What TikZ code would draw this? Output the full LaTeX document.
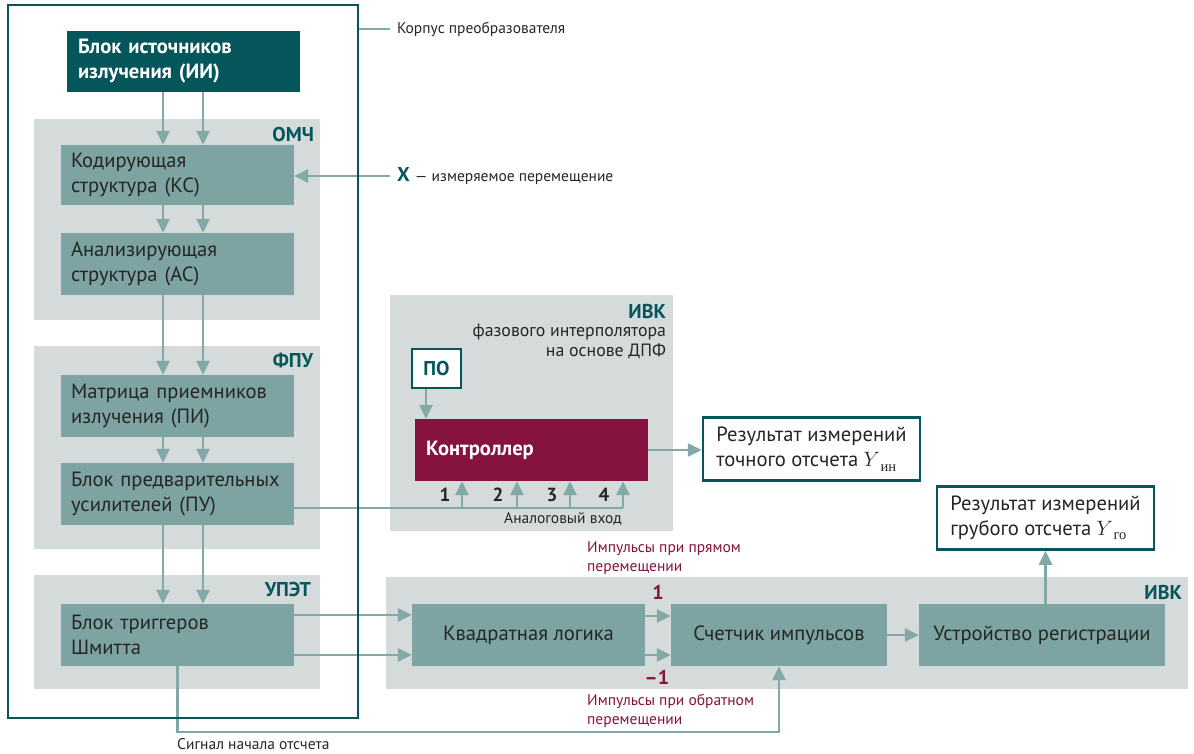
\documentclass[tikz,border=0pt]{standalone}
\usepackage{fontspec}
\setmainfont{PT Sans}
\newfontfamily\serifc{Liberation Serif}
\usetikzlibrary{arrows.meta}
\definecolor{dteal}{HTML}{04565B}
\definecolor{boxc}{HTML}{7DA3A3}
\definecolor{arrc}{HTML}{82A8A8}
\definecolor{regc}{HTML}{D5DBDB}
\definecolor{burg}{HTML}{86123F}
\definecolor{txtc}{HTML}{262626}
\newcommand\fmain{\fontsize{20.6}{25}\selectfont}
\newcommand\fsub{\fontsize{17.8}{20.5}\selectfont}
\newcommand\fsmall{\fontsize{15.5}{19}\selectfont}
\newcommand\flab{\bfseries\fontsize{20}{22}\selectfont}
\newcommand\Ysub[1]{$Y$\kern0.5pt\raisebox{-4.5pt}{\serifc\fontsize{14.5}{14.5}\selectfont #1}}
\tikzset{
  region/.style={rectangle, fill=regc, draw=none, inner sep=0pt},
  blk/.style={rectangle, fill=boxc, text=txtc, inner xsep=10pt, inner ysep=0pt,
    align=left, font=\fmain, minimum height=62pt},
  cblk/.style={blk, align=center},
  darkblk/.style={rectangle, fill=dteal, text=white, inner xsep=11pt, inner ysep=0pt,
    align=left, font=\fmain\bfseries, minimum height=61pt},
  ctrlblk/.style={rectangle, fill=burg, text=white, inner xsep=11pt, inner ysep=0pt,
    align=left, font=\fmain\bfseries, minimum height=62pt},
  resblk/.style={rectangle, fill=white, draw=dteal, line width=2.5pt, text=txtc,
    inner xsep=8pt, inner ysep=0pt, align=left, font=\fmain, minimum height=63pt},
  rlabel/.style={text=dteal, font=\flab, inner sep=0pt},
  small/.style={text=txtc, font=\fsmall, inner sep=0pt},
  bsmall/.style={text=burg, font=\fsmall, inner sep=0pt, align=left},
  num/.style={text=txtc, font=\bfseries\fontsize{19}{22}\selectfont, inner sep=0pt},
  bnum/.style={text=burg, font=\bfseries\fontsize{20}{22}\selectfont, inner sep=0pt},
  line/.style={draw=arrc, line width=2.5pt},
  arr/.style={line, -{Triangle[length=14pt,width=13pt]}},
}
\begin{document}
\begin{tikzpicture}[x=1pt,y=-1pt]
\useasboundingbox (0,0) rectangle (1194,754);
% regions
\node[region, minimum width=286pt, minimum height=201pt] (omch) at (177,219.5) {};
\node[region, minimum width=286pt, minimum height=203pt] (fpu) at (177,447.5) {};
\node[region, minimum width=286pt, minimum height=114pt] (upet) at (177,632) {};
\node[region, minimum width=283pt, minimum height=236pt] (ivk1) at (531.5,413) {};
\node[region, minimum width=802pt, minimum height=112pt] (ivk2) at (787,633) {};
\node[rlabel, anchor=east] (lomch) at ([xshift=-6pt,yshift=-16pt]omch.north east) {ОМЧ};
\node[rlabel, anchor=east] (lfpu) at ([xshift=-7pt,yshift=-15pt]fpu.north east) {ФПУ};
\node[rlabel, anchor=east] (lupet) at ([xshift=-9pt,yshift=-15pt]upet.north east) {УПЭТ};
\node[rlabel, anchor=east] (livk1) at ([xshift=-7pt,yshift=-17pt]ivk1.north east) {ИВК};
\node[text=txtc, font=\fsub, inner sep=0pt, align=right, anchor=north east] (livk1s)
  at ([xshift=-7pt,yshift=-29pt]ivk1.north east) {фазового интерполятора\\на основе ДПФ};
\node[rlabel, anchor=east] (livk2) at ([xshift=-6pt,yshift=-16pt]ivk2.north east) {ИВК};
% left column
\node[darkblk, minimum width=233pt, text width=211pt] (ii) at (183.5,61.5) {Блок источников\\излучения (ИИ)};
\node[blk, minimum width=233pt, text width=213pt, minimum height=60pt] (ks) at (177.5,175) {Кодирующая\\структура (КС)};
\node[blk, minimum width=233pt, text width=213pt] (as) at (177.5,264) {Анализирующая\\структура (АС)};
\node[blk, minimum width=233pt, text width=213pt] (pi) at (177.5,406) {Матрица приемников\\излучения (ПИ)};
\node[blk, minimum width=233pt, text width=213pt] (pu) at (177.5,494) {Блок предварительных\\усилителей (ПУ)};
\node[blk, minimum width=233pt, text width=213pt] (shm) at (177.5,635) {Блок триггеров\\Шмитта};
% IVK top
\node[resblk, minimum width=49pt, minimum height=39pt, inner xsep=0pt, align=center, font=\flab, text=dteal] (po) at (436.5,368.5) {ПО};
\node[ctrlblk, minimum width=233pt, text width=211pt] (ctrl) at (531.5,450) {Контроллер};
\node[resblk, minimum width=217pt] (res1) at (811.5,449) {Результат измерений\\точного отсчета \Ysub{ин}};
\node[num] (n1) at (445,495) {1};
\node[num] (n2) at (498,495) {2};
\node[num] (n3) at (552,495) {3};
\node[num] (n4) at (604,495) {4};
\node[small] (analog) at (563,519) {Аналоговый вход};
% IVK bottom
\node[cblk, minimum width=233pt] (kv) at (528.5,635) {Квадратная логика};
\node[cblk, minimum width=216pt] (cnt) at (779,635) {Счетчик импульсов};
\node[cblk, minimum width=246pt] (reg) at (1042,635) {Устройство регистрации};
\node[resblk, minimum width=217pt] (res2) at (1045.5,518) {Результат измерений\\грубого отсчета \Ysub{го}};
\node[bnum] (p1) at (658,592) {1};
\node[bnum] (m1) at (657,677) {–1};
\node[bsmall, anchor=west] (imp1) at (587,558.5) {Импульсы при прямом\\перемещении};
\node[bsmall, anchor=west] (imp2) at (587,711) {Импульсы при обратном\\перемещении};
\node[small, anchor=west] (sig) at (177,744) {Сигнал начала отсчета};
% right labels
\node[small, anchor=west] (korp) at (397,29) {Корпус преобразователя};
\node[small, anchor=west] (xlab) at (397,176) {{\flab\color{dteal}X}\kern5pt — измеряемое перемещение};
% connectors
\coordinate (ax1) at (163,0);
\coordinate (ax2) at (203,0);
\foreach \a/\b in {ii/ks, ks/as, as/pi, pi/pu, pu/shm}{
  \draw[arr] (\a.south -| ax1) -- (\b.north -| ax1);
  \draw[arr] (\a.south -| ax2) -- (\b.north -| ax2);
}
\coordinate (xc) at (390,176);
\draw[arr] (xc) -- (xc -| ks.east);
% PU to controller inputs
\coordinate (busy) at (0,508);
\coordinate (b1) at (462,508);
\coordinate (b2) at (517,508);
\coordinate (b3) at (570,508);
\coordinate (b4) at (623,508);
\draw[line] (pu.east |- busy) -- (b4);
\foreach \b in {b1,b2,b3,b4}{
  \draw[arr] (\b) -- (ctrl.south -| \b);
}
\coordinate (pox) at (426,0);
\draw[arr] (po.south -| pox) -- (ctrl.north -| pox);
\draw[arr] (ctrl.east) -- (ctrl.east -| res1.west);
% Schmitt to quadrature logic
\draw[arr] ([yshift=20pt]shm.east) -- ([yshift=20pt]shm.east -| kv.west);
\draw[arr] ([yshift=-20pt]shm.east) -- ([yshift=-20pt]shm.east -| kv.west);
\draw[arr] ([yshift=19pt]kv.east) -- ([yshift=19pt]kv.east -| cnt.west);
\draw[arr] ([yshift=-20pt]kv.east) -- ([yshift=-20pt]kv.east -| cnt.west);
\draw[arr] (cnt.east) -- (cnt.east -| reg.west);
\draw[arr] (res2.south |- reg.north) -- (res2.south);
\coordinate (sb) at (0,732);
\draw[arr] (shm.south) |- (sb -| cnt.south) -- (cnt.south);
% frame
\node[rectangle, draw=dteal, line width=2.5pt, minimum width=350pt, minimum height=713pt, inner sep=0pt] (frame) at (183,361.5) {};
\coordinate (kc) at (390,29);
\draw[line] (frame.east |- kc) -- (kc);
\end{tikzpicture}
\end{document}
